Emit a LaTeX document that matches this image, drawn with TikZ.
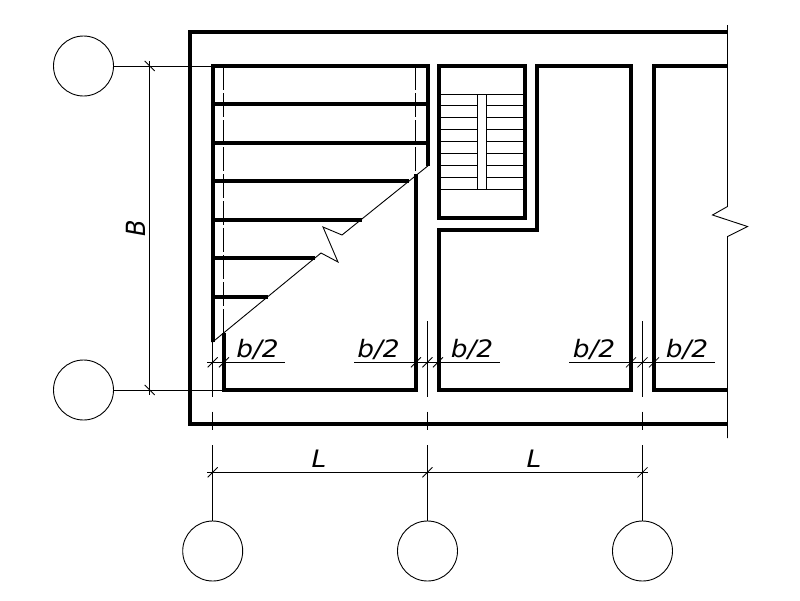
\documentclass[tikz,border=0pt]{standalone}
\usepackage{fontspec}
\setmainfont{DejaVu Sans}
\begin{document}
\begin{tikzpicture}[x=1pt,y=-1pt,
  wall/.style={line width=4pt,line join=miter,line cap=butt},
  thin line/.style={line width=0.9pt},
  hairline/.style={line width=0.8pt},
  axis circle/.style={circle,draw,line width=0.9pt,minimum size=60pt,inner sep=0pt,outer sep=0pt},
  dimtext/.style={font=\fontsize{24}{24}\selectfont\itshape,inner sep=0pt,xscale=1.1},
  tickf/.style={line width=0.8pt},
  dash col/.style={line width=0.9pt,dash pattern=on 24pt off 3pt}]
\useasboundingbox (0,0) rectangle (800,600);
% axis circles
\node[axis circle] (A) at (83.5,66) {};
\node[axis circle] (B) at (83.5,390) {};
\node[axis circle] (C1) at (212.7,551) {};
\node[axis circle] (C2) at (427.5,551) {};
\node[axis circle] (C3) at (642.5,551) {};
% coordinates
\coordinate (A1) at (213,66);
\coordinate (B1) at (224,390);
\coordinate (G1a) at (212.7,445);
\coordinate (G2a) at (427.5,445);
\coordinate (G3a) at (642.5,445);
% outer wall
\draw[wall] (727,32) -- (190,32) -- (190,424) -- (727,424);
% room 1
\draw[wall] (213,342) -- (213,66) -- (428,66) -- (428,166);
\draw[wall] (224,333) -- (224,390) -- (416,390) -- (416,174);
\foreach \y in {104,143} \draw[wall] (213,\y) -- (428,\y);
\draw[wall] (213,181) -- (409,181);
\draw[wall] (213,220) -- (362,220);
\draw[wall] (213,258) -- (315,258);
\draw[wall] (213,297) -- (268,297);
% dashed lines
\draw[dash col] (223.3,66) -- (223.3,333);
\draw[dash col] (415.7,66) -- (415.7,174);
% break line
\draw[thin line] (212,342.5) -- (321,253) -- (338,262) -- (323,227) -- (342,235) -- (429,165);
% stair room
\draw[wall] (438.5,66) rectangle (525,217.5);
\foreach \y in {94.3,105.3,117.3,129.3,141.3,153.3,165.3,177.3,189.3} \draw[hairline] (440,\y) -- (523,\y);
\draw[hairline,fill=white] (477.5,94.3) rectangle (486.5,189.3);
% room 2
\draw[wall] (438.5,390) -- (438.5,230) -- (537,230) -- (537,66) -- (631,66) -- (631,390) -- cycle;
% room 3
\draw[wall] (727,66) -- (654,66) -- (654,390) -- (727,390);
% right break line
\draw[thin line] (727.5,25) -- (727.5,206.5) -- (712.5,215) -- (747.5,226.5) -- (727.5,236.5) -- (727.5,438);
% axis lines
\draw[thin line] (A.east) -- (A1);
\draw[thin line] (B.east) -- (B1);
\draw[thin line] (C1.north) -- (G1a);
\draw[thin line] (C2.north) -- (G2a);
\draw[thin line] (C3.north) -- (G3a);
\foreach \x in {212.7,427.5,642.5} {
  \draw[thin line] (\x,411.5) -- (\x,429.5);
}
\foreach \x in {212.7,427.5,642.5} \draw[thin line] (\x,321) -- (\x,397);
% dimension lines
\draw[thin line] (149.7,61) -- (149.7,395);
\foreach \y in {66,390} \draw[tickf] (144.7,\y-5) -- (154.7,\y+5);
\draw[thin line] (207,362.3) -- (285,362.3);
\draw[thin line] (354,362.3) -- (500,362.3);
\draw[thin line] (569,362.3) -- (715,362.3);
\foreach \x in {212.7,224,416,427.5,438,631,642.5,654} \draw[tickf] (\x-5,367.3) -- (\x+5,357.3);
\draw[thin line] (207,472.3) -- (648,472.3);
\foreach \x in {212.7,427.5,642.5} \draw[tickf] (\x-5,477.3) -- (\x+5,467.3);
% texts
\node[dimtext] (t1) at (257.5,349.5) {b/2};
\node[dimtext] (t2) at (378.5,349.5) {b/2};
\node[dimtext] (t3) at (472,349.5) {b/2};
\node[dimtext] (t4) at (594,349.5) {b/2};
\node[dimtext] (t5) at (687,349.5) {b/2};
\node[dimtext] (t6) at (319,459) {L};
\node[dimtext] (t7) at (534,459) {L};
\node[dimtext,rotate=90,xscale=1] (t8) at (136,228) {B};
\end{tikzpicture}
\end{document}
